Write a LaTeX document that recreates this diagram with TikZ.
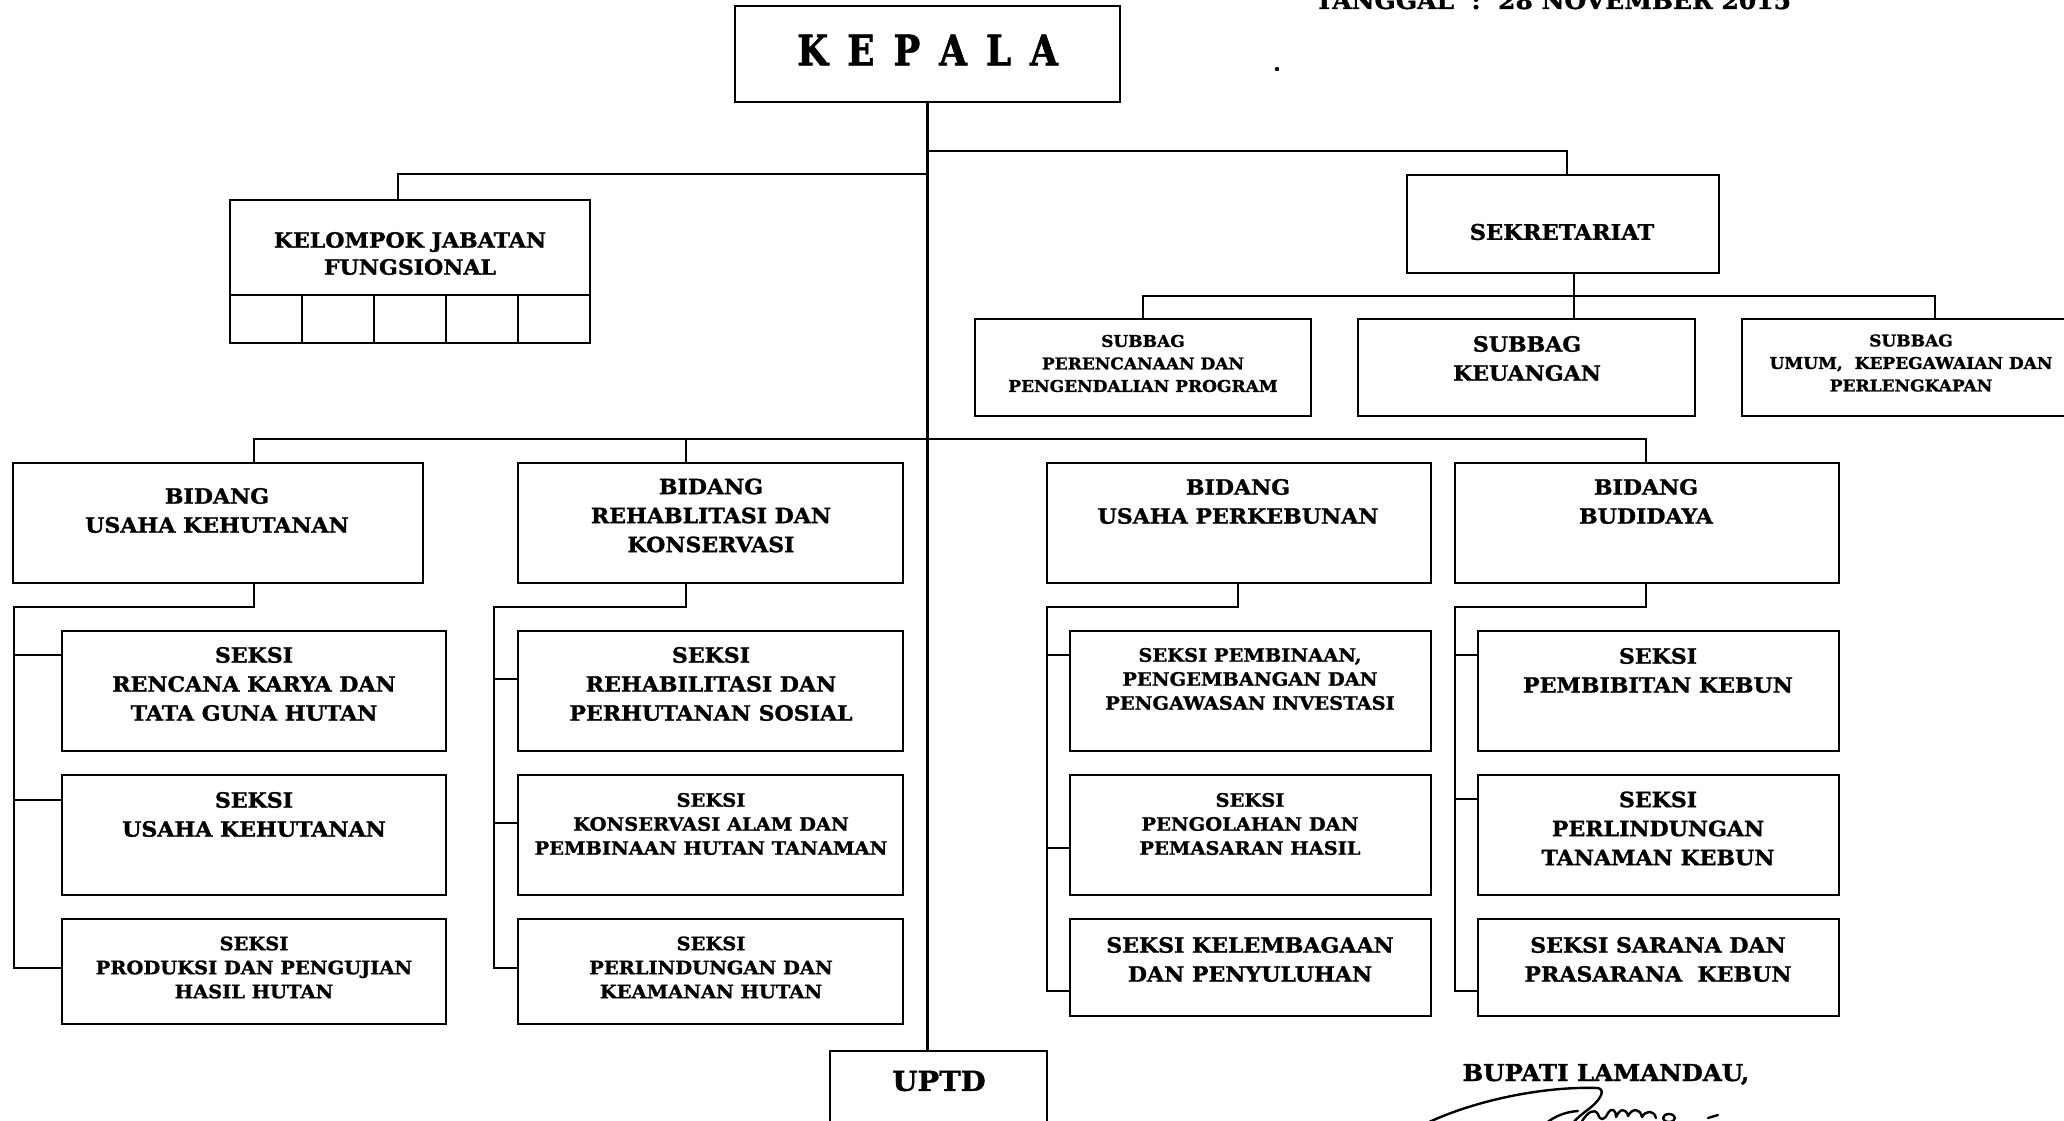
\documentclass[tikz,border=0pt]{standalone}
\usepackage{fontspec}
\setmainfont{DejaVu Serif}[FakeStretch=1.05, FakeBold=1.3]
\newfontfamily\kepalafont{DejaVu Serif}[FakeStretch=0.85, FakeBold=1.5]
\newcommand\fL{\bfseries\fontsize{21pt}{29pt}\selectfont}
\newcommand\fS{\bfseries\fontsize{18.5pt}{24pt}\selectfont}
\newcommand\fSs{\bfseries\fontsize{16.2pt}{22.5pt}\selectfont}
\begin{document}
\begin{tikzpicture}[x=1pt,y=-1pt,
  box/.style={draw, line width=2.6pt, inner sep=0pt},
  wire/.style={line width=2.2pt},
  lblL/.style={align=center, inner sep=0pt, font=\fL},
  lblS/.style={align=center, inner sep=0pt, font=\fS},
  lblSs/.style={align=center, inner sep=0pt, font=\fSs},
  sig/.style={line width=2.4pt, line cap=round, line join=round}]
\useasboundingbox (0,0) rectangle (2064,1121);
\clip (0,0) rectangle (2064,1121);

% ---------- head and staff ----------
\node[box, minimum width=385pt, minimum height=96pt] (kepala) at (927.5,54) {};
\node[inner sep=0pt, font=\kepalafont\bfseries\fontsize{42pt}{42pt}\selectfont] (t-kepala) at (927.5,50)
  {K\hspace{19pt}E\hspace{19pt}P\hspace{19pt}A\hspace{19pt}L\hspace{19pt}A};

\node[box, minimum width=360pt, minimum height=95pt] (kjf) at (410,247.5) {};
\foreach \i/\cx in {1/266,2/338,3/410,4/482,5/554}
  \node[box, minimum width=72pt, minimum height=48pt] (kjf-\i) at (\cx,319) {};
\node[lblL, font=\bfseries\fontsize{21pt}{27pt}\selectfont] (t-kjf) at (410,253.5) {KELOMPOK JABATAN\\FUNGSIONAL};

\node[box, minimum width=312pt, minimum height=98pt] (sekr) at (1563,224) {};
\node[lblL, font=\bfseries\fontsize{21.5pt}{29pt}\selectfont] (t-sekr) at (1562,232) {SEKRETARIAT};

\node[box, minimum width=336pt, minimum height=97pt] (sp1) at (1143,367.5) {};
\node[box, minimum width=337pt, minimum height=97pt] (sp2) at (1526.5,367.5) {};
\node[box, minimum width=338pt, minimum height=97pt] (sp3) at (1911,367.5) {};
\node[lblSs] (t-sp1) at (1143,363.5) {SUBBAG\\PERENCANAAN DAN\\PENGENDALIAN PROGRAM};
\node[lblL] (t-sp2) at (1527,358.5) {SUBBAG\\KEUANGAN};
\node[lblSs] (t-sp3) at (1911,363) {SUBBAG\\UMUM,~~KEPEGAWAIAN DAN\\PERLENGKAPAN};

% ---------- bidang ----------
\node[box, minimum width=410pt, minimum height=120pt] (b1) at (218,523) {};
\node[box, minimum width=385pt, minimum height=120pt] (b2) at (710.5,523) {};
\node[box, minimum width=384pt, minimum height=120pt] (b3) at (1239,523) {};
\node[box, minimum width=384pt, minimum height=120pt] (b4) at (1647,523) {};
\node[lblL] (t-b1) at (217,510.5) {BIDANG\\USAHA KEHUTANAN};
\node[lblL] (t-b2) at (711,515.5) {BIDANG\\REHABLITASI DAN\\KONSERVASI};
\node[lblL] (t-b3) at (1238,501.5) {BIDANG\\USAHA PERKEBUNAN};
\node[lblL] (t-b4) at (1646,501.5) {BIDANG\\BUDIDAYA};

% ---------- seksi ----------
\node[box, minimum width=384pt, minimum height=120pt] (s11) at (254,691) {};
\node[box, minimum width=384pt, minimum height=120pt] (s12) at (254,835) {};
\node[box, minimum width=384pt, minimum height=105pt] (s13) at (254,971.5) {};
\node[box, minimum width=385pt, minimum height=120pt] (s21) at (710.5,691) {};
\node[box, minimum width=385pt, minimum height=120pt] (s22) at (710.5,835) {};
\node[box, minimum width=385pt, minimum height=105pt] (s23) at (710.5,971.5) {};
\node[box, minimum width=361pt, minimum height=120pt] (s31) at (1250.5,691) {};
\node[box, minimum width=361pt, minimum height=120pt] (s32) at (1250.5,835) {};
\node[box, minimum width=361pt, minimum height=97pt] (s33) at (1250.5,967.5) {};
\node[box, minimum width=361pt, minimum height=120pt] (s41) at (1658.5,691) {};
\node[box, minimum width=361pt, minimum height=120pt] (s42) at (1658.5,835) {};
\node[box, minimum width=361pt, minimum height=97pt] (s43) at (1658.5,967.5) {};

\node[lblL] (t-s11) at (254,684) {SEKSI\\RENCANA KARYA DAN\\TATA GUNA HUTAN};
\node[lblL] (t-s12) at (254,814.5) {SEKSI\\USAHA KEHUTANAN};
\node[lblS] (t-s13) at (254,967.5) {SEKSI\\PRODUKSI DAN PENGUJIAN\\HASIL HUTAN};
\node[lblL] (t-s21) at (711,684) {SEKSI\\REHABILITASI DAN\\PERHUTANAN SOSIAL};
\node[lblS] (t-s22) at (711,824) {SEKSI\\KONSERVASI ALAM DAN\\PEMBINAAN HUTAN TANAMAN};
\node[lblS] (t-s23) at (711,967.5) {SEKSI\\PERLINDUNGAN DAN\\KEAMANAN HUTAN};
\node[lblS] (t-s31) at (1250,679) {SEKSI PEMBINAAN,\\PENGEMBANGAN DAN\\PENGAWASAN INVESTASI};
\node[lblS] (t-s32) at (1250,824) {SEKSI\\PENGOLAHAN DAN\\PEMASARAN HASIL};
\node[lblL] (t-s33) at (1250,959.5) {SEKSI KELEMBAGAAN\\DAN PENYULUHAN};
\node[lblL] (t-s41) at (1658,670.5) {SEKSI\\PEMBIBITAN KEBUN};
\node[lblL] (t-s42) at (1658,828.5) {SEKSI\\PERLINDUNGAN\\TANAMAN KEBUN};
\node[lblL] (t-s43) at (1658,959.5) {SEKSI SARANA DAN\\PRASARANA~~KEBUN};

% ---------- uptd ----------
\node[box, minimum width=217pt, minimum height=140pt] (uptd) at (938.5,1121) {};
\node[inner sep=0pt, font=\bfseries\fontsize{27.5pt}{29pt}\selectfont] (t-uptd) at (939,1081) {UPTD};

% ---------- header line, stray dot, signature block ----------
\node[inner sep=0pt, font=\bfseries\fontsize{23.8pt}{29pt}\selectfont, anchor=base] (tanggal) at (1553,9) {TANGGAL~~:~~28 NOVEMBER 2015};
\node[inner sep=0pt, font=\fL] (dot) at (1277,69) {.};
\node[inner sep=0pt, font=\bfseries\fontsize{23.3pt}{29pt}\selectfont, anchor=base] (bupati) at (1606,1081) {BUPATI LAMANDAU,};

% ---------- connectors ----------
\coordinate (jS) at (927,151);
\coordinate (jK) at (927,174);
\coordinate (jB) at (927,439);
\coordinate (jSub) at (1574,296);

\draw[wire] (kepala.south) -- (kepala.south |- uptd.north);
\draw[wire] (jS) -| ([xshift=4pt]sekr.north);
\draw[wire] (jK) -| ([xshift=-12pt]kjf.north);
\draw[wire] ([xshift=36pt]b1.north) |- (jB) -| ([xshift=-1pt]b4.north);
\draw[wire] (jB) -| ([xshift=-24.5pt]b2.north);

\draw[wire] ([xshift=11pt]sekr.south) -- ([xshift=47.5pt]sp2.north);
\draw[wire] (sp1.north) |- (jSub) -| ([xshift=24pt]sp3.north);

% bidang usaha kehutanan
\coordinate (c1) at (14,607);
\coordinate (e11) at ([yshift=36pt]s11.west);
\coordinate (e12) at ([yshift=35pt]s12.west);
\coordinate (e13) at ([yshift=3.5pt]s13.west);
\draw[wire] ([xshift=36pt]b1.south) |- (c1) |- (e13);
\draw[wire] (c1 |- e11) -- (e11);
\draw[wire] (c1 |- e12) -- (e12);

% bidang rehabilitasi dan konservasi
\coordinate (c2) at (494,607);
\coordinate (e21) at ([yshift=12pt]s21.west);
\coordinate (e22) at ([yshift=12pt]s22.west);
\coordinate (e23) at ([yshift=3.5pt]s23.west);
\draw[wire] ([xshift=-24.5pt]b2.south) |- (c2) |- (e23);
\draw[wire] (c2 |- e21) -- (e21);
\draw[wire] (c2 |- e22) -- (e22);

% bidang usaha perkebunan
\coordinate (c3) at (1047,607);
\coordinate (e31) at ([yshift=36pt]s31.west);
\coordinate (e32) at ([yshift=-13pt]s32.west);
\coordinate (e33) at ([yshift=-23.5pt]s33.west);
\draw[wire] ([xshift=-1pt]b3.south) |- (c3) |- (e33);
\draw[wire] (c3 |- e31) -- (e31);
\draw[wire] (c3 |- e32) -- (e32);

% bidang budidaya
\coordinate (c4) at (1455,607);
\coordinate (e41) at ([yshift=36pt]s41.west);
\coordinate (e42) at ([yshift=36pt]s42.west);
\coordinate (e43) at ([yshift=-23.5pt]s43.west);
\draw[wire] ([xshift=-1pt]b4.south) |- (c4) |- (e43);
\draw[wire] (c4 |- e41) -- (e41);
\draw[wire] (c4 |- e42) -- (e42);

% ---------- signature ----------
\draw[sig] (1425,1124) .. controls (1470,1102) and (1540,1086) .. (1598,1088)
  .. controls (1606,1090) and (1600,1100) .. (1590,1108)
  .. controls (1582,1114) and (1576,1119) .. (1572,1124);
\draw[sig] (1545,1124) .. controls (1555,1116) and (1565,1112) .. (1578,1111);
\draw[sig] (1582,1121) .. controls (1588,1112) and (1594,1108) .. (1598,1114)
  .. controls (1600,1121) and (1604,1121) .. (1608,1113)
  .. controls (1612,1107) and (1616,1110) .. (1616,1117)
  .. controls (1620,1108) and (1626,1108) .. (1628,1116)
  .. controls (1632,1108) and (1640,1108) .. (1642,1117)
  .. controls (1646,1110) and (1654,1110) .. (1656,1118);
\draw[sig] (1669,1118) ellipse [x radius=6pt, y radius=4pt];
\draw[sig] (1708,1118) -- (1718,1115);
\end{tikzpicture}
\end{document}
